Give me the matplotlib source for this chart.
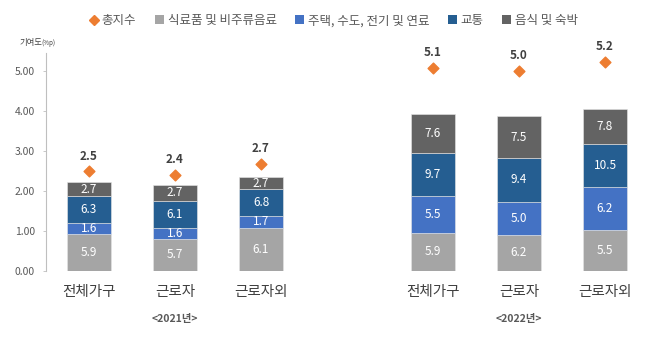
import numpy as np
import matplotlib
matplotlib.use('Agg')
import matplotlib.pyplot as plt
from matplotlib.lines import Line2D
from matplotlib.patches import Patch

plt.rcParams['font.family'] = ['Noto Sans CJK KR', 'DejaVu Sans']

## categories (two years, three household groups each)
categories = ['전체가구', '근로자', '근로자외', '전체가구', '근로자', '근로자외']
years = ['<2021년>', '<2022년>']

## contribution (%p) heights of each stacked segment
food = [0.91, 0.80, 1.075, 0.935, 0.90, 1.02]
housing = [0.28, 0.26, 0.30, 0.925, 0.825, 1.07]
transport = [0.67, 0.69, 0.665, 1.075, 1.085, 1.08]
restaurant = [0.36, 0.39, 0.30, 0.985, 1.05, 0.88]

## numbers printed inside the segments
food_lbl = ['5.9', '5.7', '6.1', '5.9', '6.2', '5.5']
housing_lbl = ['1.6', '1.6', '1.7', '5.5', '5.0', '6.2']
transport_lbl = ['6.3', '6.1', '6.8', '9.7', '9.4', '10.5']
restaurant_lbl = ['2.7', '2.7', '2.7', '7.6', '7.5', '7.8']

## overall index (diamonds)
total = [2.48, 2.40, 2.67, 5.075, 5.00, 5.22]
total_lbl = ['2.5', '2.4', '2.7', '5.1', '5.0', '5.2']

series_names = ['식료품 및 비주류음료', '주택, 수도, 전기 및 연료', '교통', '음식 및 숙박']
colors = ['#A5A5A5', '#4472C4', '#255E91', '#636363']
orange = '#ED7D31'
txt = '#404040'

x = np.array([0, 1, 2, 4, 5, 6])

fig = plt.figure(figsize=(6.58, 3.45), dpi=100)
ax = fig.add_axes([0.0699, 0.2154, 0.915, 0.632])

segments = [food, housing, transport, restaurant]
labels = [food_lbl, housing_lbl, transport_lbl, restaurant_lbl]
bottom = np.zeros(len(x))
for vals, lbls, c in zip(segments, labels, colors):
    vals = np.array(vals)
    ax.bar(x, vals, width=0.52, bottom=bottom, color=c,
           edgecolor='#e6e6e6', linewidth=0.4, zorder=2)
    for xi, b, v, l in zip(x, bottom, vals, lbls):
        ax.text(xi, b + v / 2, l, ha='center', va='center', color='white',
                fontsize=8.5, zorder=3)
    bottom = bottom + vals

ax.scatter(x, total, marker='D', s=30, color=orange, zorder=4)
for xi, t, l in zip(x, total, total_lbl):
    ax.text(xi, t + 0.22, l, ha='center', va='bottom', color=txt,
            fontsize=8.5, fontweight='bold')

ax.set_xlim(-0.5, 6.5)
ax.set_ylim(0, 5.45)
ax.set_yticks([0, 1, 2, 3, 4, 5])
ax.set_yticklabels(['%.2f' % v for v in [0, 1, 2, 3, 4, 5]],
                   fontsize=7.5, color='#595959')
ax.tick_params(axis='y', length=2, width=0.6, color='#bfbfbf', pad=6)
ax.set_xticks(x)
ax.set_xticklabels(categories, fontsize=10.5, color=txt)
ax.tick_params(axis='x', length=0, pad=10)
for s in ['top', 'right', 'bottom']:
    ax.spines[s].set_visible(False)
ax.spines['left'].set_color('#bfbfbf')
ax.spines['left'].set_linewidth(0.8)

## year labels under the groups
for xc, yl in zip([1, 5], years):
    ax.text(xc, -1.2, yl, ha='center', va='center', fontsize=7.5,
            color='#595959', fontweight='bold')

fig.text(0.030, 0.877, '기여도', fontsize=6, color=txt, va='center')
fig.text(0.063, 0.875, '(%p)', fontsize=4.5, color=txt, va='center')

handles = [Line2D([], [], marker='D', color=orange, linestyle='none', markersize=5)]
handles += [Patch(facecolor=c) for c in colors]
fig.legend(handles, ['총지수'] + series_names, loc='center', ncol=5,
           bbox_to_anchor=(0.507, 0.94), frameon=False, fontsize=9,
           labelcolor='#595959', handlelength=0.7, handleheight=0.7,
           handletextpad=0.3, columnspacing=1.5)

fig.savefig('out.png', dpi=100)
